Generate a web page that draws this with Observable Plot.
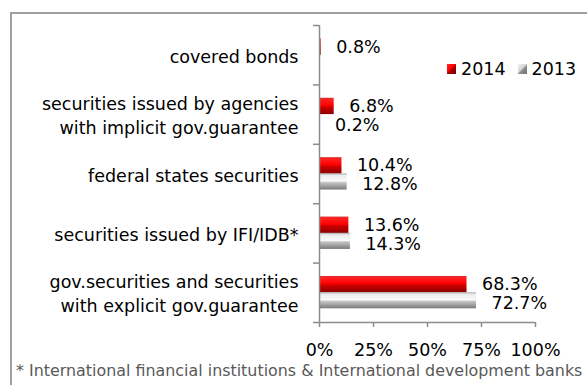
<!DOCTYPE html>
<html>
<head>
<meta charset="utf-8">
<script src="https://cdn.jsdelivr.net/npm/d3@7"></script>
<script src="https://cdn.jsdelivr.net/npm/@observablehq/plot@0.6"></script>
<style>
  html, body { margin: 0; padding: 0; background: #fff; }
  #wrap { position: relative; width: 587px; height: 385px; overflow: hidden; font-family: "DejaVu Sans", sans-serif; }
  #box { position: absolute; left: 10px; top: 12px; width: 600px; height: 400px; border-left: 2px solid #a0a0a0; border-top: 2px solid #a0a0a0; }
  #chart { position: absolute; left: 0; top: 0; }
  #legend { position: absolute; left: 447px; top: 59px; font-size: 17.5px; color: #000; display: flex; align-items: center; white-space: nowrap; }
  .sw { display: inline-block; width: 9px; height: 10px; margin-right: 5px; }
  .sw.r { background: linear-gradient(135deg, #ff2a2a 0%, #ff0000 45%, #a00000 55%, #800000 100%); }
  .sw.g { background: linear-gradient(135deg, #f0f0f0 0%, #d8d8d8 45%, #909090 55%, #707070 100%); margin-left: 12px; }
  #note { position: absolute; left: 16px; top: 361px; font-size: 15.9px; color: #595959; white-space: nowrap; }
</style>
</head>
<body>
<div id="wrap">
  <div id="box"></div>
  <div id="chart"></div>
  <div id="legend"><span class="sw r"></span>2014<span class="sw g"></span>2013</div>
  <div id="note">* International financial institutions &amp; International development banks</div>
</div>
<script>
const categories = [
  "covered bonds",
  "securities issued by agencies\nwith implicit gov.guarantee",
  "federal states securities",
  "securities issued by IFI/IDB*",
  "gov.securities and securities\nwith explicit gov.guarantee"
];
const values2014 = [0.8, 6.8, 10.4, 13.6, 68.3];
const values2013 = [null, 0.2, 12.8, 14.3, 72.7];
const xTicks = [0, 25, 50, 75, 100];

const rows = [];
categories.forEach((c, i) => {
  if (values2014[i] != null) rows.push({cat: c, i, year: "2014", v: values2014[i]});
  if (values2013[i] != null) rows.push({cat: c, i, year: "2013", v: values2013[i]});
});
const r14 = rows.filter(d => d.year === "2014");
const r13 = rows.filter(d => d.year === "2013");
// slot within a category: 2014 above, 2013 below
const slot = {"2014": [0.225, 0.5], "2013": [0.5, 0.77]};
const mid = d => (slot[d.year][0] + slot[d.year][1]) / 2 + d.i;

const plot = Plot.plot({
  width: 587,
  height: 360,
  marginLeft: 319,
  marginRight: 52,
  marginTop: 25,
  marginBottom: 38,
  style: {fontFamily: "DejaVu Sans, sans-serif", fontSize: "17.5px", color: "#000", background: "transparent", overflow: "visible"},
  x: {domain: [0, 100], label: null},
  y: {domain: [0, categories.length], reverse: true, label: null},
  marks: [
    Plot.rect(r14, {x1: 0, x2: "v", y1: d => d.i + slot[d.year][0], y2: d => d.i + slot[d.year][1], fill: "url(#gradRed)"}),
    Plot.rect(r13, {x1: 0, x2: "v", y1: d => d.i + slot[d.year][0], y2: d => d.i + slot[d.year][1], fill: "url(#gradGrey)"}),
    Plot.ruleX([0], {stroke: "#8c8c8c", strokeWidth: 1.5}),
    Plot.ruleY([categories.length], {x1: 0, x2: 100, stroke: "#8c8c8c", strokeWidth: 1.5}),
    Plot.axisY({ticks: d3.range(categories.length + 1), tickSize: 6, tickFormat: () => "", label: null, stroke: "#8c8c8c", strokeWidth: 1.5}),
    Plot.axisY({ticks: d3.range(categories.length).map(i => i + 0.5), tickSize: 0, tickPadding: 21, label: null,
      tickFormat: d => categories[Math.round(d - 0.5)], lineHeight: 1.37, fontSize: 17.5, fill: "#000"}),
    Plot.axisX({ticks: xTicks, tickSize: 5, tickPadding: 16, label: null, tickFormat: d => d + "%", stroke: "#8c8c8c", strokeWidth: 1.5, fontSize: 17.5, fill: "#000"}),
    Plot.text(r14, {x: "v", y: mid, text: d => d.v.toFixed(1) + "%", textAnchor: "start", dx: 15, dy: 0, fontSize: 17.5, fill: "#000"}),
    Plot.text(r13, {x: "v", y: mid, text: d => d.v.toFixed(1) + "%", textAnchor: "start", dx: 15, dy: 2.5, fontSize: 17.5, fill: "#000"})
  ]
});

const defs = d3.select(plot).insert("defs", ":first-child");
const g1 = defs.append("linearGradient").attr("id", "gradRed").attr("x1", 0).attr("y1", 0).attr("x2", 0).attr("y2", 1);
[[0, "#d83030"], [0.1, "#ff2020"], [0.48, "#ff0000"], [0.55, "#d00000"], [1, "#8c0000"]].forEach(([o, c]) => g1.append("stop").attr("offset", o).attr("stop-color", c));
const g2 = defs.append("linearGradient").attr("id", "gradGrey").attr("x1", 0).attr("y1", 0).attr("x2", 0).attr("y2", 1);
[[0, "#a8a8a8"], [0.12, "#ececec"], [0.48, "#fafafa"], [0.55, "#c8c8c8"], [1, "#7a7a7a"]].forEach(([o, c]) => g2.append("stop").attr("offset", o).attr("stop-color", c));

document.getElementById("chart").appendChild(plot);
</script>
</body>
</html>
